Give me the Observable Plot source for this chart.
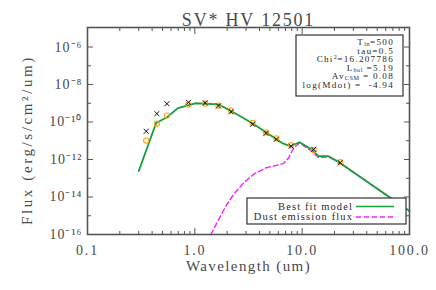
<!DOCTYPE html>
<html>
<head>
<meta charset="utf-8">
<script src="https://cdn.jsdelivr.net/npm/d3@7"></script>
<script src="https://cdn.jsdelivr.net/npm/@observablehq/plot@0.6"></script>
<style>
  body { margin: 0; background: white; }
  #chart svg { display: block; }
</style>
</head>
<body>
<div id="chart"></div>
<script>
// ---- data ----
const title = "SV* HV 12501";
const xLabel = "Wavelength (um)";
const yLabel = "Flux (erg/s/cm²/um)";

// best fit model
const modelWave = [0.30, 0.436, 0.55, 0.695, 1.01, 1.66, 2.14, 3.4, 4.53, 6.15, 6.7, 7.74, 9.46, 12.3, 14.2, 17.6, 22.6, 100];
const modelFlux = [2.4e-13, 8.9e-11, 1.8e-10, 5.5e-10, 1.0e-9, 8.7e-10, 4.1e-10, 8.9e-11, 3.0e-11, 9.3e-12, 7.0e-12, 5.1e-12, 8.3e-12, 3.4e-12, 1.5e-12, 1.5e-12, 6.6e-13, 1.8e-15];

// dust emission flux
const dustWave = [1.41, 1.55, 1.73, 1.99, 2.30, 2.85, 3.52, 4.53, 6.15, 6.71, 7.47, 8.32, 9.46, 12.3, 14.2, 17.6, 22.6, 100];
const dustFlux = [1.0e-16, 2.8e-16, 9.5e-16, 4.1e-15, 1.38e-14, 5.8e-14, 1.6e-13, 3.5e-13, 5.4e-13, 6.2e-13, 1.2e-12, 4.1e-12, 7.6e-12, 2.8e-12, 1.26e-12, 1.4e-12, 6.3e-13, 1.74e-15];

// observed photometry (circles) and dereddened photometry (crosses)
const obsWave  = [0.352, 0.443, 0.55, 0.873, 1.25, 1.66, 2.17, 3.45, 4.6, 5.74, 7.9, 12.8, 22.6];
const obsFlux  = [1.02e-11, 8.1e-11, 2.2e-10, 8.5e-10, 9.5e-10, 7.4e-10, 4.1e-10, 8.9e-11, 2.8e-11, 1.35e-11, 5.8e-12, 3.2e-12, 7.2e-13];
const dereFlux = [3.2e-11, 2.8e-10, 9.5e-10, 1.12e-9, 1.05e-9, 7.2e-10, 3.5e-10, 7.6e-11, 2.5e-11, 1.2e-11, 5.1e-12, 3.5e-12, 6.8e-13];

// tick labels
const xTickValues = [0.1, 1, 10, 100];
const xTickLabels = ["0.1", "1.0", "10.0", "100.0"];
const yTickValues = [1e-16, 1e-14, 1e-12, 1e-10, 1e-8, 1e-6];
const yTickLabels = ["10⁻¹⁶", "10⁻¹⁴", "10⁻¹²", "10⁻¹⁰", "10⁻⁸", "10⁻⁶"];

// fit parameters box
const paramLines = [
  [["T", ""], ["in", "sub"], ["=500", ""]],
  [["tau=0.5", ""]],
  [["Chi", ""], ["2", "sup"], ["=16.207786", ""]],
  [["L", ""], ["bol", "sub"], [" =5.19", ""]],
  [["Av", ""], ["CSM", "sub"], [" = 0.08", ""]],
  [["log(Mdot) = \u00a0-4.94", ""]]
];
const legendNames = ["Best fit model", "Dust emission flux"];

// ---- tables ----
const model = modelWave.map((w, i) => ({w, f: modelFlux[i]}));
const dust = dustWave.map((w, i) => ({w, f: dustFlux[i]}));
const obs = obsWave.map((w, i) => ({w, f: obsFlux[i]}));
const dere = obsWave.map((w, i) => ({w, f: dereFlux[i]}));

const minorX = [0.1, 1, 10].flatMap(d => d3.range(2, 10).map(k => k * d));
const minorY = [1e-15, 1e-13, 1e-11, 1e-9, 1e-7];

const green = "#17a03a";
const magenta = "#ff1cff";
const axisColor = "#555";
const textColor = "#4a4a4a";
const font = "Liberation Serif";

const xFmt = d => xTickLabels[xTickValues.indexOf(d)];
const yFmt = d => yTickLabels[yTickValues.indexOf(d)];
const none = () => "";

const plot = Plot.plot({
  width: 436,
  height: 290,
  marginLeft: 87,
  marginRight: 27,
  marginTop: 27,
  marginBottom: 56,
  style: {fontFamily: font, background: "white", color: textColor},
  x: {type: "log", domain: [0.1, 100]},
  y: {type: "log", domain: [1e-16, 1.1e-5]},
  marks: [
    // data
    Plot.line(dust, {x: "w", y: "f", stroke: magenta, strokeWidth: 1.4, strokeDasharray: "5,3"}),
    Plot.line(model, {x: "w", y: "f", stroke: green, strokeWidth: 1.8}),
    Plot.dot(obs, {x: "w", y: "f", r: 2.6, stroke: "#ffa31a", strokeWidth: 1.1}),
    Plot.dot(dere, {x: "w", y: "f", r: 2.4, symbol: "times", stroke: "#111", strokeWidth: 1}),
    // frame
    Plot.frame({stroke: axisColor, strokeWidth: 1.6}),
    // ticks (inward)
    Plot.axisX(xTickValues, {anchor: "bottom", tickSize: -6, tickFormat: none, label: null, stroke: axisColor}),
    Plot.axisX(minorX, {anchor: "bottom", tickSize: -3, tickFormat: none, label: null, stroke: axisColor}),
    Plot.axisX(xTickValues, {anchor: "top", tickSize: -6, tickFormat: none, label: null, stroke: axisColor}),
    Plot.axisX(minorX, {anchor: "top", tickSize: -3, tickFormat: none, label: null, stroke: axisColor}),
    Plot.axisY(yTickValues, {anchor: "left", tickSize: -6, tickFormat: none, label: null, stroke: axisColor}),
    Plot.axisY(minorY, {anchor: "left", tickSize: -4, tickFormat: none, label: null, stroke: axisColor}),
    Plot.axisY(yTickValues, {anchor: "right", tickSize: -6, tickFormat: none, label: null, stroke: axisColor}),
    Plot.axisY(minorY, {anchor: "right", tickSize: -4, tickFormat: none, label: null, stroke: axisColor}),
    // tick labels
    Plot.axisX(xTickValues, {anchor: "bottom", tickSize: 0, tickPadding: 11, tickFormat: xFmt, label: null, fontSize: 14, fill: textColor}),
    Plot.axisY(yTickValues, {anchor: "left", tickSize: 0, tickPadding: 5, tickFormat: yFmt, label: null, fontSize: 14, fill: textColor}),
    // titles
    Plot.text([title], {frameAnchor: "top", dy: -14, fontSize: 18, fill: textColor}),
    Plot.text([xLabel], {frameAnchor: "bottom", dy: 36, fontSize: 15, fill: textColor}),
    Plot.text([yLabel], {frameAnchor: "left", dx: -60, dy: 9, rotate: -90, textAnchor: "middle", fontSize: 15, fill: textColor})
  ]
});

document.getElementById("chart").appendChild(plot);

const svg = d3.select(plot);
// wide letter spacing, like the original plotting font
const spacing = new Map([[title, 1.8], [xLabel, 1.4], [yLabel, 2.6]]);
xTickLabels.forEach(s => spacing.set(s, 1.8));
yTickLabels.forEach(s => spacing.set(s, 1));
svg.selectAll("text").each(function() {
  const s = this.textContent;
  if (spacing.has(s)) d3.select(this).attr("letter-spacing", spacing.get(s));
});

// ---- legends (drawn in pixel space) ----
const g1 = svg.append("g").attr("font-family", font).attr("font-size", 9.2)
  .attr("letter-spacing", 1.25).attr("fill", "#2a2a2a");
g1.append("rect").attr("x", 296).attr("y", 35).attr("width", 107).attr("height", 61)
  .attr("fill", "white").attr("stroke", "#333").attr("stroke-width", 1.2);
paramLines.forEach((parts, i) => {
  const t = g1.append("text").attr("x", 394).attr("y", 45.3 + i * 8.5).attr("text-anchor", "end");
  parts.forEach(([s, kind]) => {
    const ts = t.append("tspan").text(s);
    if (kind === "sub") ts.attr("font-size", 6.2).attr("letter-spacing", 0.5).attr("baseline-shift", "-1.3");
    if (kind === "sup") ts.attr("font-size", 6.2).attr("letter-spacing", 0.5).attr("baseline-shift", "2.8");
  });
});

const g2 = svg.append("g").attr("font-family", font).attr("font-size", 10.5)
  .attr("letter-spacing", 1.1).attr("fill", "#2a2a2a");
g2.append("rect").attr("x", 247).attr("y", 198).attr("width", 159).attr("height", 26)
  .attr("fill", "white").attr("stroke", "#333").attr("stroke-width", 1.2);
const legendStyles = [{stroke: green, dash: null, w: 1.5}, {stroke: magenta, dash: "5,3", w: 1.4}];
legendNames.forEach((name, i) => {
  const y = 206.5 + i * 10.5;
  g2.append("text").attr("x", 353).attr("y", y + 3.3).attr("text-anchor", "end").text(name);
  g2.append("line").attr("x1", 356).attr("x2", 394).attr("y1", y).attr("y2", y)
    .attr("stroke", legendStyles[i].stroke).attr("stroke-width", legendStyles[i].w)
    .attr("stroke-dasharray", legendStyles[i].dash);
});
</script>
</body>
</html>
